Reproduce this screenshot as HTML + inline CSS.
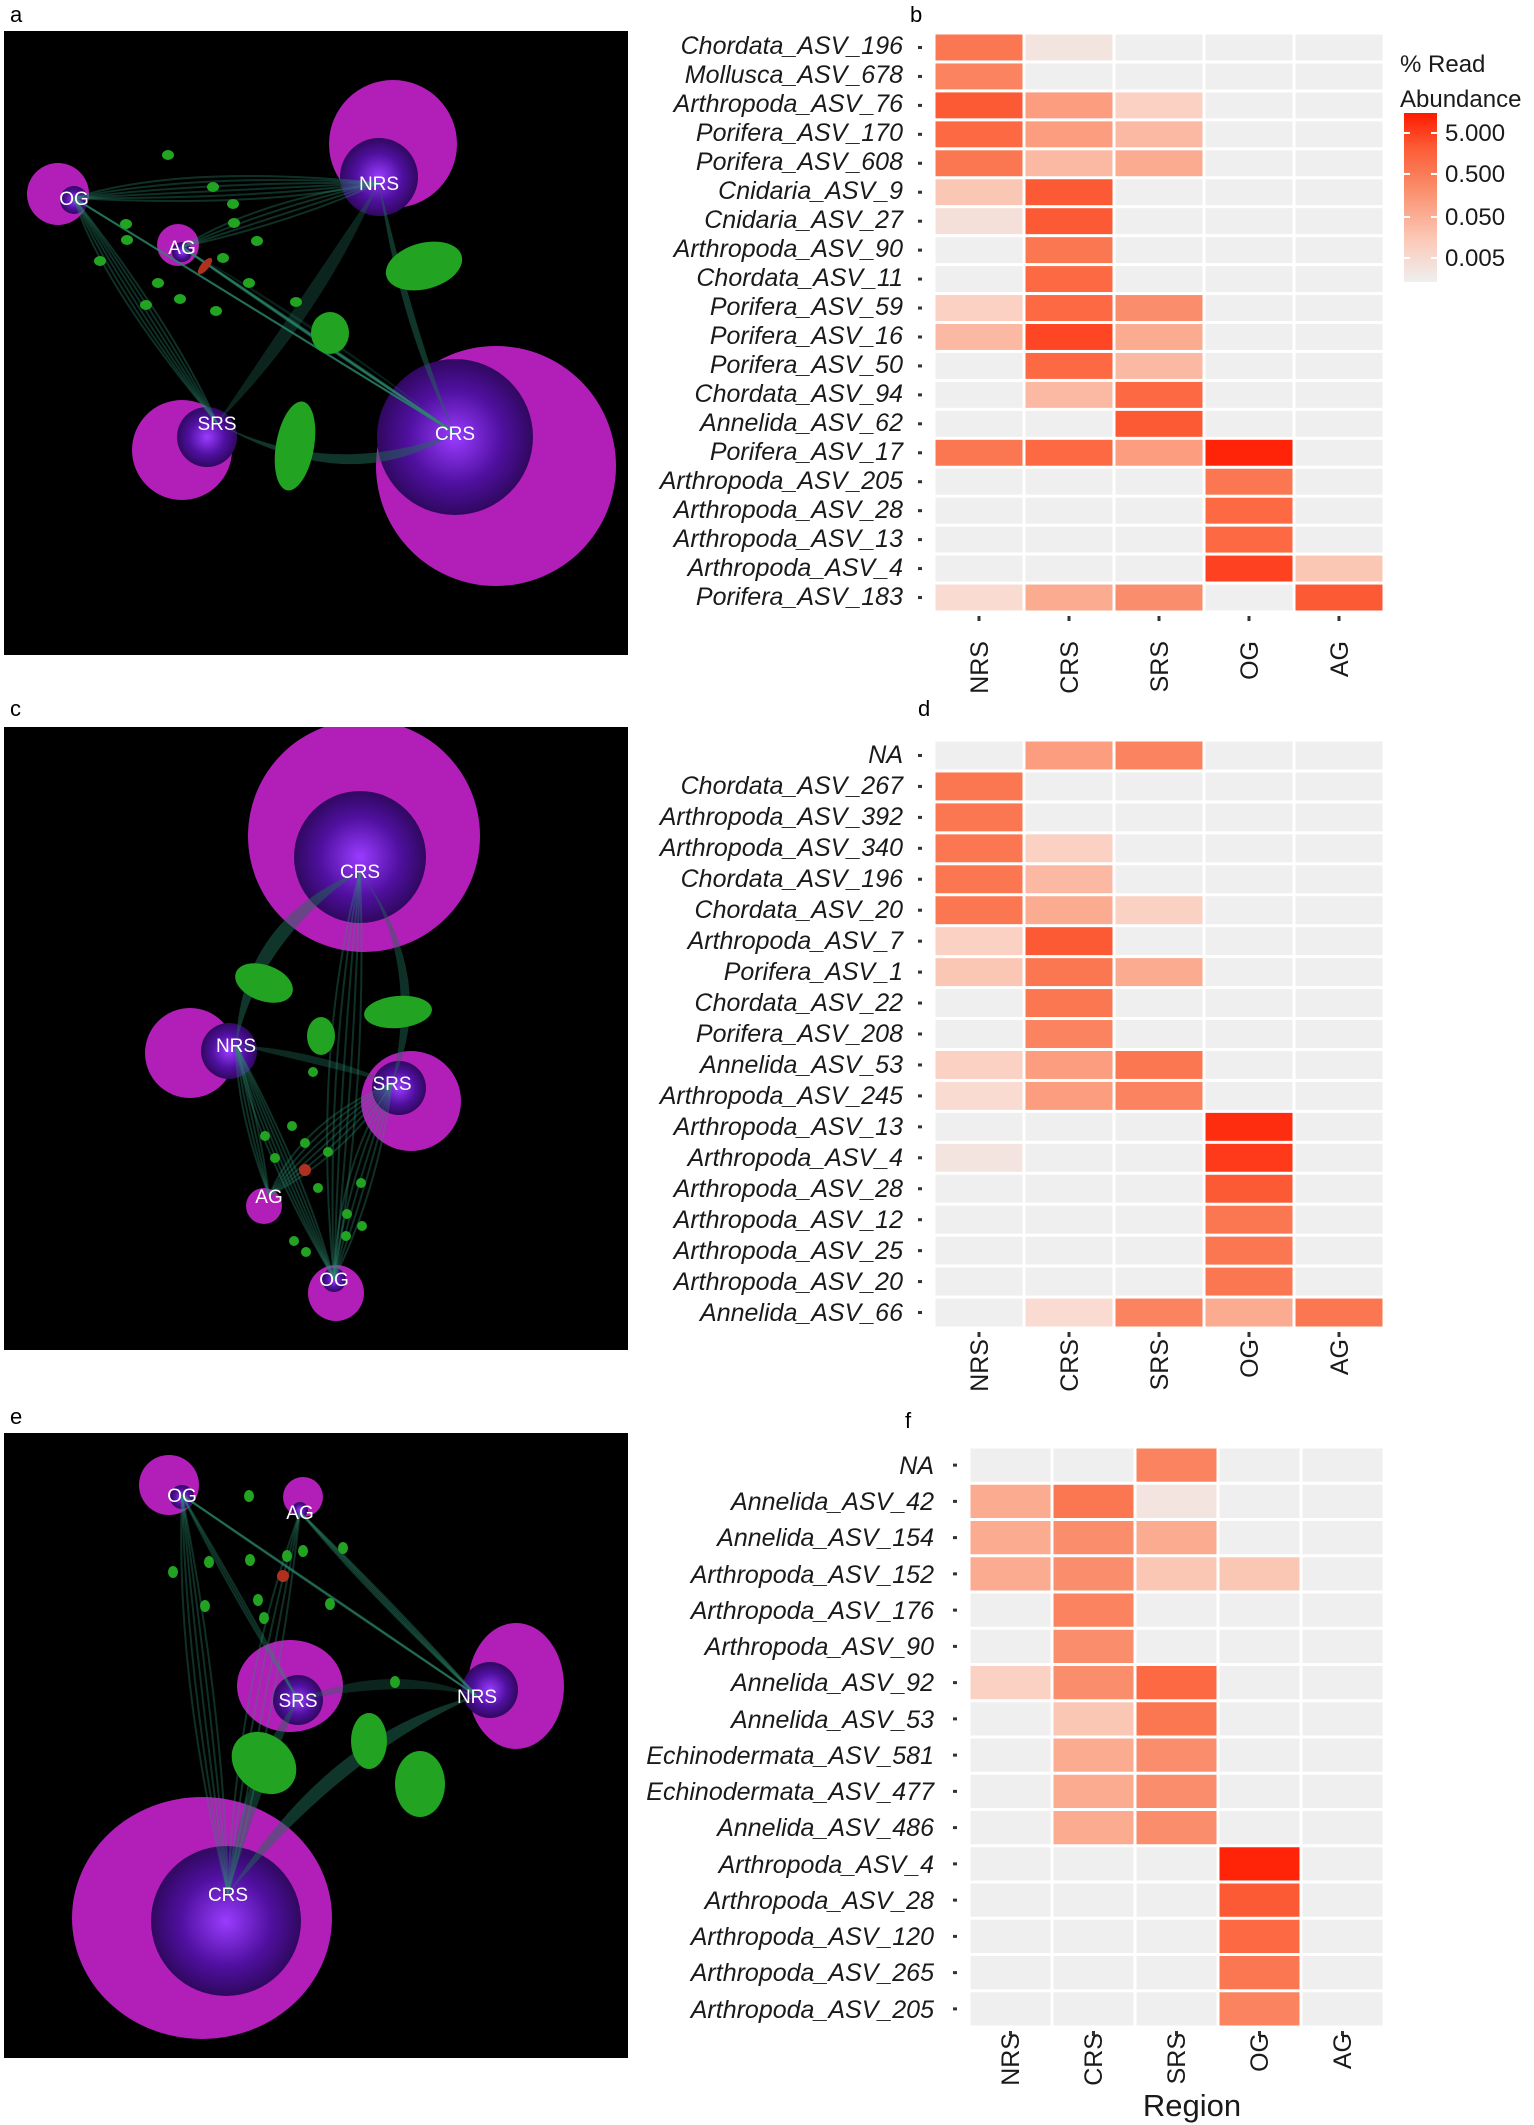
<!DOCTYPE html>
<html><head><meta charset="utf-8"><style>
html,body{margin:0;padding:0;background:#fff;}
svg{display:block;}
.rl{font-family:"Liberation Sans",sans-serif;font-style:italic;font-size:25px;fill:#1a1a1a;text-anchor:end;}
.xl{font-family:"Liberation Sans",sans-serif;font-size:25px;fill:#1a1a1a;text-anchor:end;}
.pl{font-family:"Liberation Sans",sans-serif;font-size:22px;fill:#000;}
.nl{font-family:"Liberation Sans",sans-serif;font-size:19px;fill:#fff;text-anchor:middle;}
.lg{font-family:"Liberation Sans",sans-serif;font-size:24px;fill:#1a1a1a;}
</style></head><body>
<svg id="s" width="1534" height="2125" viewBox="0 0 1534 2125" xmlns="http://www.w3.org/2000/svg">
<defs>
<radialGradient id="pg"><stop offset="0" stop-color="#9a3cff"/><stop offset="0.6" stop-color="#5010a0"/><stop offset="1" stop-color="#300860"/></radialGradient>
<linearGradient id="cb" x1="0" y1="1" x2="0" y2="0"><stop offset="0" stop-color="#efefef"/><stop offset="0.25" stop-color="#fbc9b8"/><stop offset="0.55" stop-color="#fa8e6c"/><stop offset="0.8" stop-color="#fc5a34"/><stop offset="1" stop-color="#ff1a00"/></linearGradient>
<clipPath id="ca"><rect x="4" y="31" width="624" height="624"/></clipPath>
<clipPath id="cc"><rect x="4" y="727" width="624" height="623"/></clipPath>
<clipPath id="ce"><rect x="4" y="1433" width="624" height="625"/></clipPath>
</defs>
<rect x="4" y="31" width="624" height="624" fill="#000"/>
<rect x="4" y="727" width="624" height="623" fill="#000"/>
<rect x="4" y="1433" width="624" height="625" fill="#000"/>
<g id="net"></g>
<g id="tiles"></g>
<text class="pl" x="10" y="22">a</text>
<text class="pl" x="910" y="22">b</text>
<text class="pl" x="10" y="716">c</text>
<text class="pl" x="918" y="716">d</text>
<text class="pl" x="10" y="1424">e</text>
<text class="pl" x="905" y="1428">f</text>
<text class="nl" x="74" y="205">OG</text><text class="nl" x="379" y="190">NRS</text><text class="nl" x="182" y="254">AG</text><text class="nl" x="217" y="430">SRS</text><text class="nl" x="455" y="440">CRS</text>
<text class="nl" x="360" y="878">CRS</text><text class="nl" x="236" y="1052">NRS</text><text class="nl" x="392" y="1090">SRS</text><text class="nl" x="269" y="1203">AG</text><text class="nl" x="334" y="1286">OG</text>
<text class="nl" x="182" y="1502">OG</text><text class="nl" x="300" y="1519">AG</text><text class="nl" x="298" y="1707">SRS</text><text class="nl" x="477" y="1703">NRS</text><text class="nl" x="228" y="1901">CRS</text>
<g class="rl">
<text x="903" y="54">Chordata_ASV_196</text><text x="903" y="83">Mollusca_ASV_678</text><text x="903" y="112">Arthropoda_ASV_76</text><text x="903" y="141">Porifera_ASV_170</text><text x="903" y="170">Porifera_ASV_608</text><text x="903" y="199">Cnidaria_ASV_9</text><text x="903" y="228">Cnidaria_ASV_27</text><text x="903" y="257">Arthropoda_ASV_90</text><text x="903" y="286">Chordata_ASV_11</text><text x="903" y="315">Porifera_ASV_59</text><text x="903" y="344">Porifera_ASV_16</text><text x="903" y="373">Porifera_ASV_50</text><text x="903" y="402">Chordata_ASV_94</text><text x="903" y="431">Annelida_ASV_62</text><text x="903" y="460">Porifera_ASV_17</text><text x="903" y="489">Arthropoda_ASV_205</text><text x="903" y="518">Arthropoda_ASV_28</text><text x="903" y="547">Arthropoda_ASV_13</text><text x="903" y="576">Arthropoda_ASV_4</text><text x="903" y="605">Porifera_ASV_183</text>
</g>
<g class="rl">
<text x="903" y="763">NA</text><text x="903" y="794">Chordata_ASV_267</text><text x="903" y="825">Arthropoda_ASV_392</text><text x="903" y="856">Arthropoda_ASV_340</text><text x="903" y="887">Chordata_ASV_196</text><text x="903" y="918">Chordata_ASV_20</text><text x="903" y="949">Arthropoda_ASV_7</text><text x="903" y="980">Porifera_ASV_1</text><text x="903" y="1011">Chordata_ASV_22</text><text x="903" y="1042">Porifera_ASV_208</text><text x="903" y="1073">Annelida_ASV_53</text><text x="903" y="1104">Arthropoda_ASV_245</text><text x="903" y="1135">Arthropoda_ASV_13</text><text x="903" y="1166">Arthropoda_ASV_4</text><text x="903" y="1197">Arthropoda_ASV_28</text><text x="903" y="1228">Arthropoda_ASV_12</text><text x="903" y="1259">Arthropoda_ASV_25</text><text x="903" y="1290">Arthropoda_ASV_20</text><text x="903" y="1321">Annelida_ASV_66</text>
</g>
<g class="rl">
<text x="934" y="1474">NA</text><text x="934" y="1510">Annelida_ASV_42</text><text x="934" y="1546">Annelida_ASV_154</text><text x="934" y="1583">Arthropoda_ASV_152</text><text x="934" y="1619">Arthropoda_ASV_176</text><text x="934" y="1655">Arthropoda_ASV_90</text><text x="934" y="1691">Annelida_ASV_92</text><text x="934" y="1728">Annelida_ASV_53</text><text x="934" y="1764">Echinodermata_ASV_581</text><text x="934" y="1800">Echinodermata_ASV_477</text><text x="934" y="1836">Annelida_ASV_486</text><text x="934" y="1873">Arthropoda_ASV_4</text><text x="934" y="1909">Arthropoda_ASV_28</text><text x="934" y="1945">Arthropoda_ASV_120</text><text x="934" y="1981">Arthropoda_ASV_265</text><text x="934" y="2018">Arthropoda_ASV_205</text>
</g>
<g class="xl">
<text transform="translate(988,641) rotate(-90)">NRS</text><text transform="translate(1078,641) rotate(-90)">CRS</text><text transform="translate(1168,641) rotate(-90)">SRS</text><text transform="translate(1258,641) rotate(-90)">OG</text><text transform="translate(1348,641) rotate(-90)">AG</text>
<text transform="translate(988,1339) rotate(-90)">NRS</text><text transform="translate(1078,1339) rotate(-90)">CRS</text><text transform="translate(1168,1339) rotate(-90)">SRS</text><text transform="translate(1258,1339) rotate(-90)">OG</text><text transform="translate(1348,1339) rotate(-90)">AG</text>
<text transform="translate(1019,2033) rotate(-90)">NRS</text><text transform="translate(1102,2033) rotate(-90)">CRS</text><text transform="translate(1185,2033) rotate(-90)">SRS</text><text transform="translate(1268,2033) rotate(-90)">OG</text><text transform="translate(1351,2033) rotate(-90)">AG</text>
</g>
<text x="1192" y="2116" style="font-family:'Liberation Sans',sans-serif;font-size:31px;text-anchor:middle;fill:#1a1a1a">Region</text>
<text class="lg" x="1400" y="72">% Read</text>
<text class="lg" x="1400" y="107">Abundance</text>
<rect x="1404" y="113" width="33" height="169" fill="url(#cb)"/>
<g stroke="#fff" stroke-width="2"><line x1="1404" y1="133" x2="1410" y2="133"/><line x1="1431" y1="133" x2="1437" y2="133"/><line x1="1404" y1="174" x2="1410" y2="174"/><line x1="1431" y1="174" x2="1437" y2="174"/><line x1="1404" y1="217" x2="1410" y2="217"/><line x1="1431" y1="217" x2="1437" y2="217"/><line x1="1404" y1="258" x2="1410" y2="258"/><line x1="1431" y1="258" x2="1437" y2="258"/></g>
<text class="lg" x="1445" y="141">5.000</text><text class="lg" x="1445" y="182">0.500</text><text class="lg" x="1445" y="225">0.050</text><text class="lg" x="1445" y="266">0.005</text>
</svg>
<script>
var NS="http://www.w3.org/2000/svg";
function el(p,t,a){var e=document.createElementNS(NS,t);for(var k in a)e.setAttribute(k,a[k]);p.appendChild(e);return e;}
var S=[[0,"#efefef"],[0.5,"#f3e4df"],[1,"#f9dbd1"],[2,"#fbc7b5"],[3,"#fbab90"],[4,"#fa8e6c"],[5,"#fb7752"],[6,"#fc5a34"],[7,"#ff3214"],[8,"#ff1a00"]];
function hx(c){return [parseInt(c.substr(1,2),16),parseInt(c.substr(3,2),16),parseInt(c.substr(5,2),16)];}
function col(v){if(v<=0)return "#efefef";for(var i=1;i<S.length;i++){if(v<=S[i][0]){var a=hx(S[i-1][1]),b=hx(S[i][1]),t=(v-S[i-1][0])/(S[i][0]-S[i-1][0]);return "rgb("+a.map(function(x,j){return Math.round(x+(b[j]-x)*t)}).join(",")+")";}}return S[S.length-1][1];}
var T=document.getElementById("tiles");
function heat(x0,x1,y0,y1,data,tx){var n=data.length,cw=(x1-x0)/5,rh=(y1-y0)/n;
for(var i=0;i<n;i++){for(var j=0;j<5;j++)el(T,"rect",{x:x0+j*cw+1.5,y:y0+i*rh+1.5,width:cw-3,height:rh-3,fill:col(data[i][j])});
el(T,"rect",{x:tx,y:y0+(i+0.5)*rh-1.5,width:4,height:3,fill:"#333"});}
for(var j=0;j<5;j++)el(T,"rect",{x:x0+(j+0.5)*cw-1.5,y:y1+4,width:3,height:5,fill:"#333"});}
heat(934,1384,33,612,[[5,0.5,0,0,0],[4.5,0,0,0,0],[6,3.5,1.5,0,0],[5.5,3.5,2.5,0,0],[5,2.5,3,0,0],[2,6,0,0,0],[0.7,6,0,0,0],[0,5,0,0,0],[0,5.5,0,0,0],[1.5,5.5,4,0,0],[2.5,6.5,3,0,0],[0,5.5,2.5,0,0],[0,2.5,5.5,0,0],[0,0,6,0,0],[5,5.5,3.5,7.6,0],[0,0,0,5,0],[0,0,0,5.5,0],[0,0,0,5.5,0],[0,0,0,6.6,2],[1,3,4,0,6]],918);
heat(934,1384,740,1328,[[0,3.5,4.5,0,0],[5,0,0,0,0],[5,0,0,0,0],[5,1.5,0,0,0],[5,2.5,0,0,0],[5,3,1.5,0,0],[1.5,6,0,0,0],[2,5,3,0,0],[0,5,0,0,0],[0,4.5,0,0,0],[1.5,3.5,5,0,0],[1,3.5,4.5,0,0],[0,0,0,7.2,0],[0.5,0,0,6.8,0],[0,0,0,6,0],[0,0,0,5,0],[0,0,0,5,0],[0,0,0,5,0],[0,1,4.5,3,5]],918);
heat(969,1384,1447,2027,[[0,0,4.5,0,0],[3,5,0.5,0,0],[3,4,3,0,0],[3,4,2,2,0],[0,4.5,0,0,0],[0,4,0,0,0],[1.5,4,5.5,0,0],[0,2,5,0,0],[0,3,4,0,0],[0,3,4,0,0],[0,3,4,0,0],[0,0,0,7.6,0],[0,0,0,6,0],[0,0,0,5.5,0],[0,0,0,5,0],[0,0,0,4.5,0]],953);
var NR0=document.getElementById("net");
var N=el(NR0,"g",{"clip-path":"url(#ca)"});
function mag(cx,cy,rx,ry){el(N,"ellipse",{cx:cx,cy:cy,rx:rx,ry:ry||rx,fill:"#b21eb8"});}
function pur(cx,cy,r){el(N,"circle",{cx:cx,cy:cy,r:r,fill:"url(#pg)"});}
function grn(cx,cy,rx,ry,rot){el(N,"ellipse",{cx:cx,cy:cy,rx:rx,ry:ry,fill:"#22a322",transform:"rotate("+(rot||0)+" "+cx+" "+cy+")"});}
function edges(a,b,k,w,op){for(var i=0;i<k;i++){var mx=(a[0]+b[0])/2+(i-k/2)*w,my=(a[1]+b[1])/2+(i-k/2)*w*0.6;el(N,"path",{d:"M"+a[0]+" "+a[1]+" Q"+mx+" "+my+" "+b[0]+" "+b[1],fill:"none",stroke:"#2c8a6c","stroke-opacity":op||0.35,"stroke-width":2});}}
function fan(a,b,c,op){el(N,"path",{d:"M"+a[0]+" "+a[1]+" Q"+b[0]+" "+b[1]+" "+c[0]+" "+c[1]+" Q"+(b[0]+20)+" "+(b[1]+20)+" "+a[0]+" "+a[1],fill:"#1f6a55","fill-opacity":op||0.45});}
var OG=[74,198],NR=[379,183],AG=[182,247],SR=[217,423],CR=[455,433];
mag(496,466,120);pur(455,437,78);
mag(393,144,64);pur(379,177,39);
mag(182,450,50);pur(207,437,30);
mag(58,194,31);pur(74,200,14);
mag(178,245,21);pur(182,252,10);
fan(NR,[400,330],CR,0.5);fan(SR,[330,480],CR,0.5);fan(SR,[300,300],NR,0.35);fan(CR,[330,330],AG,0.3);
edges(OG,NR,6,15);edges(OG,SR,6,15);edges(AG,CR,6,12);edges(OG,CR,4,20);edges(AG,NR,4,12);
grn(424,266,39,23,-15);grn(330,333,19,21,0);grn(295,446,19,45,10);
[[168,155],[213,187],[233,204],[126,224],[127,240],[100,261],[158,283],[180,299],[146,305],[216,311],[249,283],[296,302],[257,241],[234,223],[223,258]].forEach(function(p){grn(p[0],p[1],6,5,0);});
grn(205,266,4,10,40);N.lastChild.setAttribute("fill","#b03020");
N=el(NR0,"g",{"clip-path":"url(#cc)"});
var cC=[360,871],cN=[236,1045],cS=[392,1083],cA=[269,1196],cO=[334,1279];
mag(364,836,116);pur(360,857,66);
mag(190,1053,45);pur(229,1051,28);
mag(411,1101,50);pur(399,1088,27);
mag(264,1206,18);mag(336,1293,28);pur(334,1280,12);
fan(cC,[240,920],cN,0.5);fan(cC,[420,960],cS,0.45);fan(cN,[320,1050],cS,0.4);
edges(cN,cO,6,10);edges(cS,cA,6,10);edges(cC,cO,5,14);edges(cN,cA,4,8);edges(cS,cO,5,10);
grn(264,983,30,18,20);grn(398,1012,34,16,-5);grn(321,1036,14,19,0);
[[313,1072],[292,1126],[265,1136],[305,1143],[328,1152],[275,1158],[361,1183],[318,1188],[347,1214],[346,1236],[294,1241],[306,1252],[362,1226]].forEach(function(p){grn(p[0],p[1],5,5,0);});
grn(305,1170,6,6,0);N.lastChild.setAttribute("fill","#b03020");
N=el(NR0,"g",{"clip-path":"url(#ce)"});
var eO=[182,1495],eA=[300,1512],eS=[298,1700],eN=[477,1696],eC=[228,1894];
mag(202,1918,130,121);pur(226,1921,75);
mag(516,1686,48,63);pur(490,1690,28);
mag(290,1686,53,46);pur(298,1700,25);
mag(169,1485,30);pur(182,1497,12);
mag(303,1497,20);pur(300,1510,8);
fan(eC,[330,1730],eN,0.5);fan(eC,[240,1770],eS,0.45);fan(eS,[390,1660],eN,0.35);
edges(eO,eC,5,12);edges(eA,eN,5,10);edges(eO,eN,4,12);edges(eA,eC,4,14);edges(eO,eS,3,8);
grn(264,1763,35,28,40);grn(369,1741,18,28,0);grn(420,1784,25,33,0);
[[249,1496],[173,1572],[209,1562],[250,1560],[287,1556],[303,1551],[343,1548],[205,1606],[258,1600],[330,1604],[264,1618],[395,1682]].forEach(function(p){grn(p[0],p[1],5,6,0);});
grn(283,1576,6,6,0);N.lastChild.setAttribute("fill","#b03020");
</script>
</body></html>
